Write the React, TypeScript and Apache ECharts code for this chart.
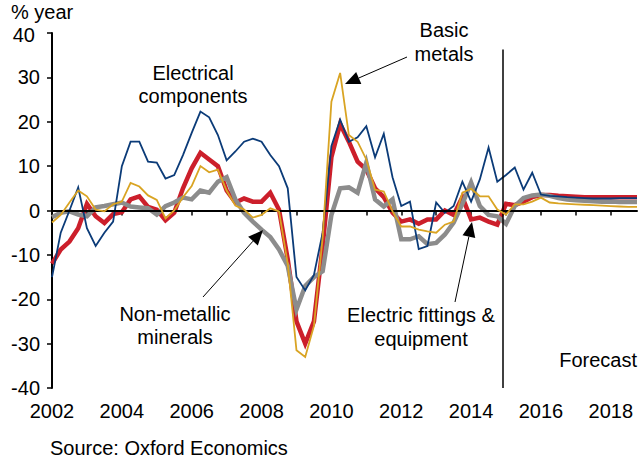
import React, { useEffect, useRef } from "react";
import * as echarts from "echarts";

const startYear = 2002;
const quarterLabels: string[] = Array.from({ length: 68 }, (_, i) => `${startYear + Math.floor(i / 4)}Q${(i % 4) + 1}`);

const electricalComponents = [
  -15, -5, 0, 5.2, -4, -8, -5, -2.5, 10, 15.5, 15.5, 11, 10.8, 7.2, 8, 12.5,
  17.5, 22.3, 21, 17, 11.3, 13.3, 15.5, 16.2, 15.5, 12.5, 10, 5, -15, -18, -14.5, -5,
  14.5, 20.5, 15.5, 16.5, 19, 12, 17.3, 7.5, 1, 2, -8.7, -8, 1.8, -0.5, 1, 6.5,
  2, 7, 14.2, 6.5, 8, 9.7, 4.7, 8.5, 3.6, 3.3, 3.2, 3.0, 2.9, 2.8, 2.7, 2.7,
  2.7, 2.8, 2.8, 2.8,
];
const electricFittings = [
  -12, -8.8, -7, -4, 1.5, -1.3, -2.8, -0.8, -0.4, 2.5, 3.2, 0.8, 0.2, -2.2, -0.5, 5,
  9.5, 13, 11.5, 10, 4.5, 1.8, 2.7, 2, 2, 4, 0.2, -11, -25, -30, -25, -8,
  12, 19.5, 15.5, 11, 9.2, 5, 3, -0.5, -2.5, -2, -3, -2, -2, 0, -1, 3,
  -2, -1.6, -2.5, -3.2, 1.5, 1.2, 2, 3, 3.5, 3.5, 3.3, 3.2, 3.1, 3.0, 3.0, 3.0,
  3.0, 3.0, 3.0, 3.0,
];
const basicMetals = [
  -2.7, -1, 1.8, 4.5, 3.2, 0.2, -0.2, 1.4, 2, 6.2, 5.4, 3.4, 2.4, -1.8, 0, 3,
  5.5, 10, 8.6, 9.2, 4.5, 1.1, 0.2, -1.6, -1, 0.5, -0.2, -12, -31.5, -33, -26, -6,
  24.5, 31, 17, 15.5, 11.5, 4.7, 4.3, -0.2, -3.6, -3.6, -4.3, -4.7, -5, -3.2, -2.5, 4,
  4.9, 3.2, 3.2, 0.2, -0.9, 1.4, 1.4, 2, 2.9, 1.8, 1.6, 1.5, 1.4, 1.3, 1.2, 1.1,
  1.0, 0.9, 0.8, 0.8,
];
const nonMetallic = [
  -1.5, -0.5, -0.2, -0.9, -1.3, 0.7, 1, 1.4, 1.8, 0.9, 0.7, 0.5, -0.9, 1, 1.8, 2.9,
  2.5, 4.5, 4, 6.5, 7.5, 2.5, -0.5, -2.5, -4.3, -6, -8.8, -12.5, -22.3, -17, -15, -13.7,
  -1, 5, 5.2, 4, 10.8, 2.5, 0.9, 2.5, -6.5, -6.5, -5.8, -7.6, -7.3, -5.4, -2.7, 1.5,
  6.3, 1, -1, -1.3, -3, 1, 2.8, 3.4, 3.6, 3.3, 2.8, 2.5, 2.3, 2.2, 2.1, 2.0,
  2.0, 1.9, 1.9, 1.9,
];
const yTicks = [-40, -30, -20, -10, 0, 10, 20, 30, 40];
const forecastStart = 2014.9;

const FONT = "'Liberation Sans', Arial, sans-serif";
const FS = 20;

function quarterToX(label: string): number {
  const y = parseInt(label.slice(0, 4), 10);
  const q = parseInt(label.slice(5), 10);
  return y + (q - 1) / 4;
}

function toPairs(values: number[]) {
  return values.map((v, i) => [quarterToX(quarterLabels[i]), v]);
}

function arrow(tail: [number, number], tip: [number, number]) {
  const dx = tip[0] - tail[0];
  const dy = tip[1] - tail[1];
  const len = Math.sqrt(dx * dx + dy * dy);
  const ux = dx / len;
  const uy = dy / len;
  const headLen = 15;
  const halfW = 6.5;
  const bx = tip[0] - ux * headLen;
  const by = tip[1] - uy * headLen;
  return [
    {
      type: "line",
      shape: { x1: tail[0], y1: tail[1], x2: bx, y2: by },
      style: { stroke: "#000", lineWidth: 1 },
      z: 100,
    },
    {
      type: "polygon",
      shape: {
        points: [
          [tip[0], tip[1]],
          [bx - uy * halfW, by + ux * halfW],
          [bx + uy * halfW, by - ux * halfW],
        ],
      },
      style: { fill: "#000" },
      z: 100,
    },
  ];
}

function label(text: string, x: number, y: number, align: string = "center") {
  return {
    type: "text",
    x,
    y,
    z: 100,
    style: {
      text,
      fill: "#000",
      font: `${FS}px ${FONT}`,
      align,
      verticalAlign: "middle",
    },
  };
}

export default function App() {
  const ref = useRef<HTMLDivElement>(null);
  useEffect(() => {
    if (!ref.current) return;
    const chart = echarts.init(ref.current, null, { renderer: "svg" });
    const lineSeries = (name: string, data: number[], color: string, width: number, z: number) => ({
      name,
      type: "line",
      data: toPairs(data),
      showSymbol: false,
      symbol: "none",
      z,
      lineStyle: { color, width, join: "miter" },
    });
    chart.setOption({
      animation: false,
      backgroundColor: "#fff",
      textStyle: { fontFamily: FONT },
      grid: { left: 52, right: 3, top: 33, bottom: 73, containLabel: false },
      xAxis: {
        type: "value",
        min: startYear,
        max: 2018.75,
        interval: 1,
        splitLine: { show: false },
        axisLine: { lineStyle: { color: "#000", width: 2 } },
        axisTick: { show: true, length: 5, inside: false, lineStyle: { color: "#000", width: 1.5 } },
        axisLabel: {
          color: "#000",
          fontSize: FS,
          fontFamily: FONT,
          margin: 13,
          showMaxLabel: false,
          formatter: (v: number) => (Math.round(v) % 2 === 0 ? String(Math.round(v)) : ""),
        },
      },
      yAxis: {
        type: "value",
        min: yTicks[0],
        max: yTicks[yTicks.length - 1],
        interval: 10,
        splitLine: { show: false },
        axisLine: { show: true, lineStyle: { color: "#000", width: 2 } },
        axisTick: { show: true, length: 5, lineStyle: { color: "#000", width: 1.5 } },
        axisLabel: {
          color: "#000",
          fontSize: FS,
          fontFamily: FONT,
          margin: 12,
          formatter: (v: number) => (v === 40 ? "{top|40}" : String(v)),
          rich: { top: { fontSize: FS, fontFamily: FONT, color: "#000", padding: [4, 5, 0, 0] } },
        },
      },
      series: [
        {
          ...lineSeries("Electric fittings & equipment", electricFittings, "#cc1f2b", 4.5, 2),
          markLine: {
            silent: true,
            symbol: "none",
            label: { show: false },
            data: [
              [
                { coord: [startYear, 0], lineStyle: { color: "#000", width: 2, type: "solid" } },
                { coord: [2018.75, 0] },
              ],
              [
                { coord: [forecastStart, -40], lineStyle: { color: "#000", width: 1.5, type: "solid" } },
                { coord: [forecastStart, 36.3] },
              ],
            ],
          },
        },
        lineSeries("Non-metallic minerals", nonMetallic, "#8c8c8c", 4.5, 3),
        lineSeries("Electrical components", electricalComponents, "#0b3b78", 1.8, 4),
        lineSeries("Basic metals", basicMetals, "#d9a423", 1.8, 5),
      ],
      graphic: [
        label("% year", 11, 12, "left"),
        label("Electrical", 193, 73),
        label("components", 193, 96),
        label("Basic", 444, 30),
        label("metals", 444, 54),
        label("Non-metallic", 175, 314),
        label("minerals", 175, 337),
        label("Electric fittings &", 421, 315),
        label("equipment", 421, 339),
        label("Forecast", 637, 360, "right"),
        label("Source: Oxford Economics", 50, 448, "left"),
        ...arrow([407, 57], [345, 84]),
        ...arrow([203, 297], [263, 230]),
        ...arrow([455, 302], [472, 222]),
      ],
    });
    return () => chart.dispose();
  }, []);
  return <div ref={ref} style={{ width: 640, height: 461, position: "absolute", left: 0, top: 0 }} />;
}
